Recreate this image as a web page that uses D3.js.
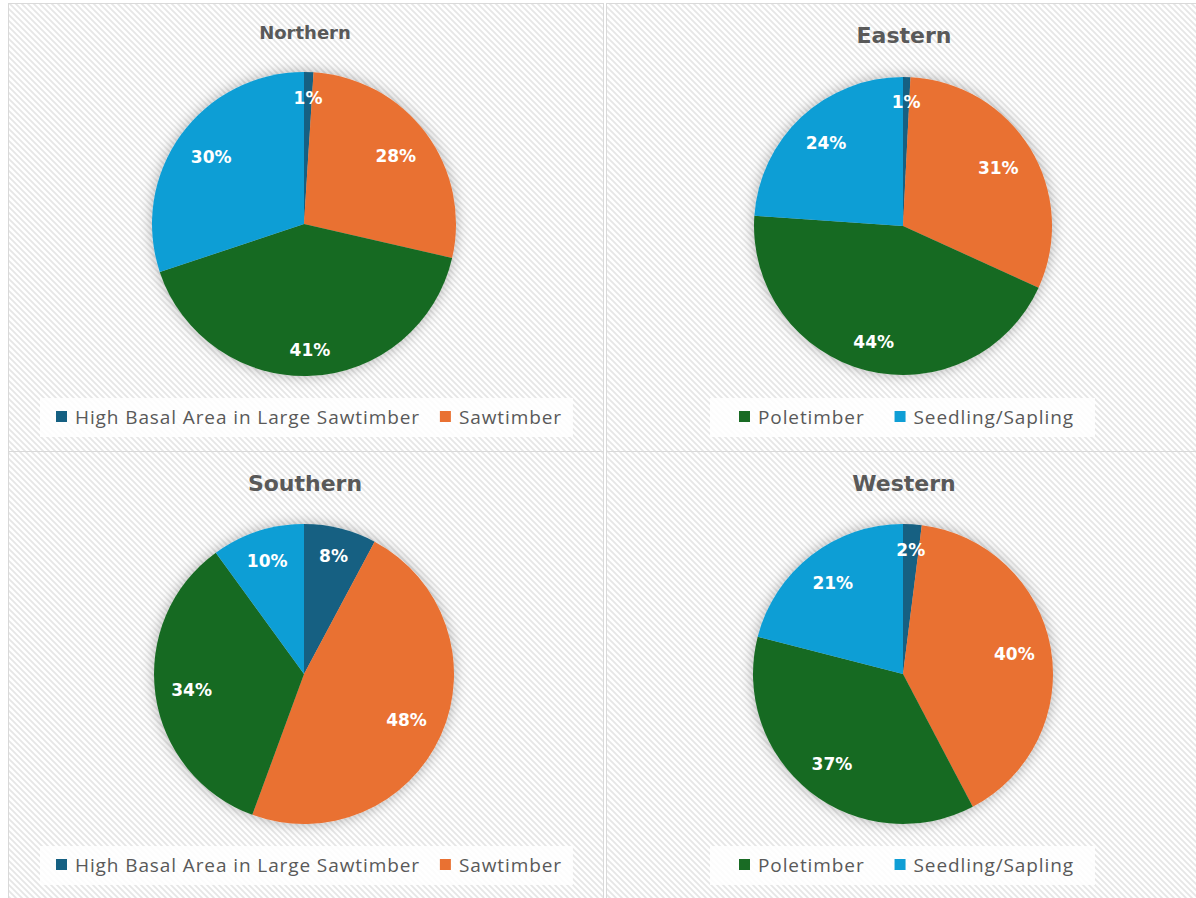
<!DOCTYPE html>
<html>
<head>
<meta charset="utf-8">
<script src="https://cdn.jsdelivr.net/npm/d3@7"></script>
<style>
  html, body { margin: 0; padding: 0; background: #ffffff; }
  svg { display: block; }
</style>
</head>
<body>
<svg id="chart" width="1196" height="898"></svg>
<script>
// ---- data ----
const regions = ["Northern", "Eastern", "Southern", "Western"];
const categories = ["High Basal Area in Large Sawtimber", "Sawtimber", "Poletimber", "Seedling/Sapling"];
const northern = [1.0, 27.6, 41.3, 30.1];
const eastern  = [0.8, 31.0, 44.3, 23.9];
const southern = [7.8, 47.8, 34.4, 10.0];
const western  = [2.0, 40.3, 36.7, 21.0];
const colors = ["#156082", "#E97132", "#196B24", "#0F9ED5"];
// legend entries shown in each panel (index into categories)
const legendNorthern = [0, 1];
const legendEastern  = [2, 3];
const legendSouthern = [0, 1];
const legendWestern  = [2, 3];

// ---- layout ----
const panels = [
  { name: regions[0], values: northern, legend: legendNorthern, box: [8, 3, 595, 448], cx: 304, cy: 224, r: 152, titleY: 32, titleSize: 18, legendY: 398, legendX: 56, gap: 20, padL: 16, padR: 11 },
  { name: regions[1], values: eastern,  legend: legendEastern,  box: [606, 3, 592, 448], cx: 903, cy: 226, r: 149, titleY: 35, titleSize: 22, legendY: 398, legendX: 739, gap: 30, padL: 29, padR: 21 },
  { name: regions[2], values: southern, legend: legendSouthern, box: [8, 451, 595, 452], cx: 304, cy: 674, r: 150, titleY: 483, titleSize: 22, legendY: 846, legendX: 56, gap: 20, padL: 16, padR: 11 },
  { name: regions[3], values: western,  legend: legendWestern,  box: [606, 451, 592, 452], cx: 903, cy: 674, r: 150, titleY: 483, titleSize: 22, legendY: 846, legendX: 739, gap: 30, padL: 29, padR: 21 }
];

const svg = d3.select("#chart");
const defs = svg.append("defs");

const pat = defs.append("pattern")
  .attr("id", "hatch").attr("patternUnits", "userSpaceOnUse")
  .attr("width", 6).attr("height", 6);
pat.append("rect").attr("width", 6).attr("height", 6).attr("fill", "#ffffff");
pat.append("path").attr("d", "M-1,-1 L7,7 M-1,5 L1,7 M5,-1 L7,1")
  .attr("stroke", "#e6e6e6").attr("stroke-width", 1.8);

const shadow = defs.append("filter").attr("id", "glow")
  .attr("x", "-20%").attr("y", "-20%").attr("width", "140%").attr("height", "140%");
shadow.append("feDropShadow").attr("dx", 0).attr("dy", 0)
  .attr("stdDeviation", 7).attr("flood-color", "#000").attr("flood-opacity", 0.3);

const color = d3.scaleOrdinal().domain(categories).range(colors);
const pie = d3.pie().sort(null).value(d => d.value);

panels.forEach(p => {
  const g = svg.append("g");
  const [bx, by, bw, bh] = p.box;
  g.append("rect").attr("x", bx + 0.5).attr("y", by + 0.5).attr("width", bw).attr("height", bh)
    .attr("fill", "url(#hatch)").attr("stroke", "#d9d9d9").attr("stroke-width", 1);

  g.append("text").attr("x", p.cx + 1).attr("y", p.titleY)
    .attr("text-anchor", "middle").attr("dominant-baseline", "central")
    .attr("font-family", "DejaVu Sans").attr("font-weight", "bold")
    .attr("font-size", p.titleSize).attr("fill", "#595959").text(p.name);

  const data = categories.map((c, i) => ({ cat: c, value: p.values[i] }));
  const arcs = pie(data);
  const arc = d3.arc().innerRadius(0).outerRadius(p.r);
  const pg = g.append("g").attr("transform", `translate(${p.cx},${p.cy})`);
  const slices = pg.append("g").attr("filter", "url(#glow)");
  slices.selectAll("path").data(arcs).join("path")
    .attr("d", arc).attr("fill", d => color(d.data.cat));

  const total = d3.sum(p.values);
  pg.selectAll("text.lbl").data(arcs).join("text").attr("class", "lbl")
    .attr("text-anchor", "middle").attr("dominant-baseline", "central")
    .attr("font-family", "DejaVu Sans").attr("font-weight", "bold")
    .attr("font-size", 17).attr("fill", "#ffffff")
    .text(d => Math.round(d.data.value / total * 100) + "%")
    .each(function (d) {
      const bb = this.getBBox();
      const a = (d.startAngle + d.endAngle) / 2;
      const ux = Math.sin(a), uy = -Math.cos(a);
      const proj = bb.width / 2 * Math.abs(ux) + bb.height / 2 * Math.abs(uy);
      const rr = p.r * 0.9 - proj;
      d3.select(this).attr("x", ux * rr).attr("y", uy * rr);
    });

  // legend
  const lg = g.append("g");
  const bgRect = lg.append("rect");
  const items = lg.append("g");
  let xoff = 0;
  p.legend.forEach((ci, k) => {
    if (k > 0) xoff += p.gap;
    items.append("rect").attr("x", xoff).attr("y", -6).attr("width", 11).attr("height", 11)
      .attr("fill", colors[ci]);
    const t = items.append("text").attr("x", xoff + 19).attr("y", 0)
      .attr("dominant-baseline", "central")
      .attr("font-family", "Open Sans").attr("font-size", 19)
      .attr("letter-spacing", 0.9).attr("fill", "#595959")
      .text(categories[ci]);
    xoff += 19 + t.node().getComputedTextLength();
  });
  const lx = p.legendX;
  items.attr("transform", `translate(${lx},${p.legendY + 19})`);
  bgRect.attr("x", lx - p.padL).attr("y", p.legendY).attr("width", xoff + p.padL + p.padR).attr("height", 39)
    .attr("fill", "#ffffff").attr("fill-opacity", 0.85);
});
</script>
</body>
</html>
